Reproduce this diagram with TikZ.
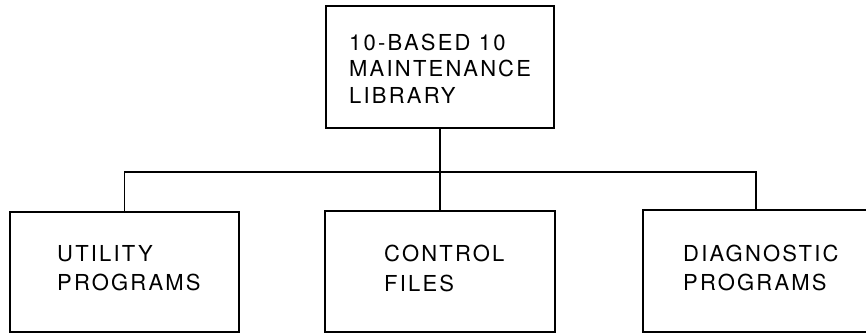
\documentclass[tikz,border=0pt]{standalone}
\usepackage{fontspec}
\setmainfont{TeX Gyre Heros}[LetterSpace=10]
\begin{document}
\begin{tikzpicture}[x=1pt,y=-1pt,
  box/.style={draw=black, line width=2.2pt, rectangle, inner sep=0pt},
  link/.style={draw=black, line width=1.5pt},
  lbl/.style={anchor=base west, inner sep=0pt, font=\fontsize{22}{27}\selectfont}]
  \useasboundingbox (0,0) rectangle (866,335);
  % library box and its three parts
  \node[box, minimum width=228pt, minimum height=122pt] (t) at (440,67) {};
  \node[box, minimum width=229pt, minimum height=120pt] (u) at (124.5,272) {};
  \node[box, minimum width=230pt, minimum height=121pt] (c) at (440,271.5) {};
  \node[box, minimum width=226pt, minimum height=122pt] (d) at (756,271) {};
  % labels
  \node[lbl] (t1) at (349,50) {10-BASED 10};
  \node[lbl] (t2) at (349,76.5) {MAINTENANCE};
  \node[lbl] (t3) at (349,103) {LIBRARY};
  \node[lbl] (u1) at (57,261.5) {UTILITY};
  \node[lbl] (u2) at (57,290) {PROGRAMS};
  \node[lbl] (c1) at (384,261.5) {CONTROL};
  \node[lbl] (c2) at (384,291) {FILES};
  \node[lbl] (d1) at (683,261.5) {DIAGNOSTIC};
  \node[lbl] (d2) at (683,290) {PROGRAMS};
  % tree connectors
  \coordinate (bus) at (440,172);
  \draw[link] (t.south) -- (c.north);
  \draw[link] (u.north) |- (bus) -| (d.north);
\end{tikzpicture}
\end{document}
